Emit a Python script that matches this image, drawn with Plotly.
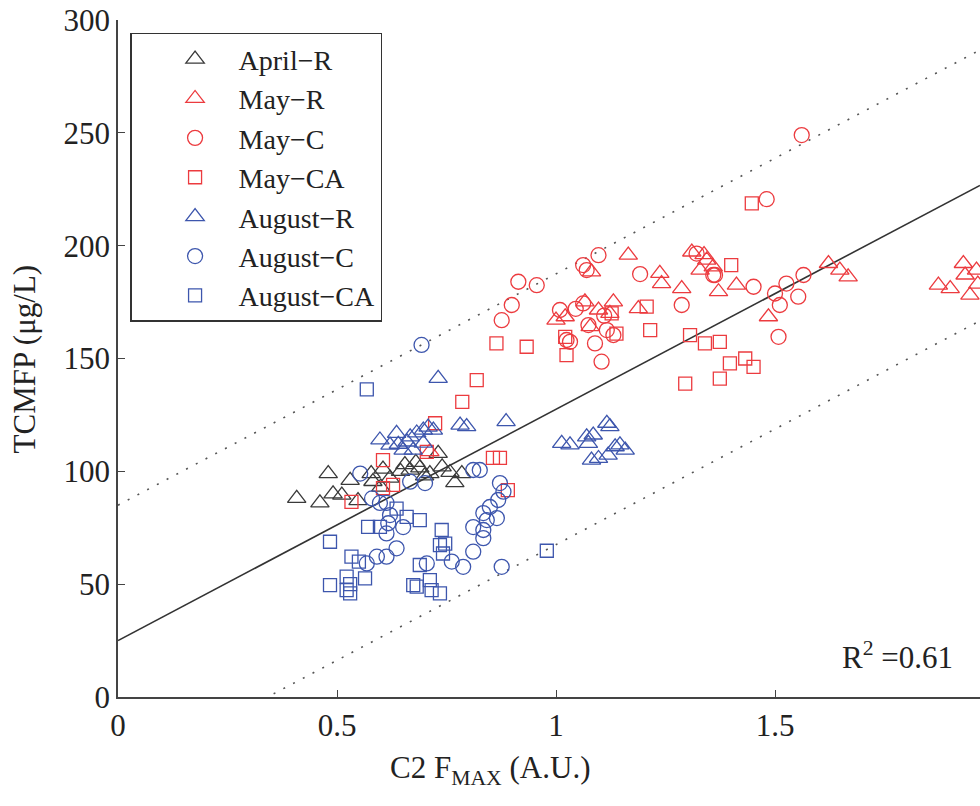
import plotly.graph_objects as go

# ---------------- data ----------------
april_r_x = [0.408, 0.461, 0.48, 0.491, 0.511, 0.53, 0.548, 0.582, 0.605, 0.621, 0.645, 0.667,
             0.689, 0.712, 0.731, 0.758, 0.769, 0.785, 0.578, 0.655, 0.70, 0.74, 0.60, 0.68]
april_r_y = [88, 86, 99, 90, 89.5, 96, 87, 95.5, 101, 97, 100, 100.5,
             101.5, 99, 108, 99.5, 95, 99, 99, 103, 98, 102, 93, 104]

may_r_x = [1.165, 1.081, 1.237, 1.241, 1.287, 1.371, 1.0, 1.021, 1.066, 1.097, 1.131, 1.123,
           1.188, 1.078, 1.31, 1.329, 1.344, 1.359, 1.412, 1.485, 1.622, 1.648, 1.667, 1.873,
           1.9, 1.93, 1.934, 1.945, 1.96, 1.963, 0.712, 1.338]
may_r_y = [195.8, 188.4, 187.7, 183.2, 181, 179.6, 167, 168.5, 175.1, 171.5, 175.1, 170,
           172.1, 164.1, 197.2, 189.2, 193.6, 190.6, 182.5, 168.5, 192.1, 189.2, 186.2, 182.5,
           181, 192.1, 187, 178.1, 189.2, 183, 108.7, 196]

may_c_x = [1.097, 1.062, 1.07, 0.914, 0.956, 1.192, 0.899, 0.876, 1.009, 1.062, 1.287, 1.024,
           1.032, 1.074, 1.116, 1.131, 1.089, 1.104, 1.321, 1.359, 1.561, 1.481, 1.363, 1.451,
           1.5, 1.526, 1.565, 1.511, 1.553, 1.508, 1.045, 1.11]
may_c_y = [195.8, 191.4, 189.2, 184, 182.5, 187.4, 173.7, 167, 171.5, 174.4, 173.7, 158.2,
           157.4, 164.8, 162.6, 160.4, 156.7, 148.6, 196.5, 187, 249, 220.6, 187, 181.8,
           178.8, 183.2, 187, 173.7, 177.4, 159.6, 172, 169]

may_ca_x = [0.864, 0.933, 1.024, 1.021, 1.138, 1.127, 1.207, 1.215, 1.306, 1.34, 1.374, 0.819,
            1.295, 1.374, 1.400, 1.397, 1.432, 1.451, 1.447, 0.786, 0.724, 0.605, 0.705, 0.605,
            0.628, 0.533, 0.856, 0.872, 0.890]
may_ca_y = [156.7, 155.2, 151.5, 159.6, 161, 170, 173, 162.6, 160.4, 156.7, 157.4, 140.4,
            138.9, 141.1, 191.4, 147.8, 150, 146.3, 218.7, 130.8, 121.3, 105, 108.6, 92.6,
            94, 86.5, 106, 106, 91.7]

aug_r_x = [0.731, 0.781, 0.796, 0.886, 0.598, 0.636, 0.621, 0.651, 0.667, 0.674, 0.682, 0.697,
           0.697, 0.708, 0.72, 1.013, 1.032, 1.07, 1.085, 1.116, 1.123, 1.081, 1.097, 1.119,
           1.135, 1.146, 1.158, 1.074, 0.64, 0.66]
aug_r_y = [141.2, 120.5, 119.8, 122, 113.9, 116.8, 111.6, 109.4, 115.3, 109.4, 117, 118.3,
           112.5, 119.6, 118.3, 112.4, 111.7, 115.3, 116.1, 121.3, 119.8, 105, 105.7, 107.2,
           110.9, 111.7, 109.4, 112.4, 112, 113]

aug_c_x = [0.693, 0.553, 0.667, 0.701, 0.811, 0.826, 0.872, 0.868, 0.849, 0.834, 0.842, 0.811,
           0.834, 0.865, 0.834, 0.811, 0.788, 0.876, 0.636, 0.613, 0.591, 0.568, 0.613, 0.617,
           0.651, 0.621, 0.598, 0.705, 0.762, 0.613, 0.88, 0.58]
aug_c_y = [156, 99, 95.4, 94.8, 100.6, 100.6, 94.8, 87.3, 84.2, 81.5, 78.4, 75.3,
           74, 79.3, 70.4, 64.4, 57.7, 57.7, 65.9, 62.2, 62.2, 59.2, 72.5, 77,
           75.3, 80.6, 86, 59.2, 60, 86, 91, 88]

aug_ca_x = [0.484, 0.484, 0.522, 0.522, 0.530, 0.533, 0.564, 0.571, 0.598, 0.636, 0.659, 0.689,
            0.674, 0.712, 0.716, 0.735, 0.739, 0.735, 0.747, 0.742, 0.689, 0.682, 0.568, 0.979,
            0.53, 0.55]
aug_ca_y = [68.8, 49.6, 53.3, 47.4, 45.9, 62.2, 52.6, 75.4, 75.4, 83.5, 79.8, 78.4,
            49.6, 51.8, 47.4, 45.9, 74, 67.3, 68, 63.6, 58.5, 48.9, 136.3, 64.8,
            50, 60]

fit_slope = 102.5
fit_intercept = 25.0
band = 60.0
x_range = [0, 1.968]
y_ticks = [0, 50, 100, 150, 200, 250, 300]
x_ticks = [0, 0.5, 1, 1.5]
x_tick_labels = ["0", "0.5", "1", "1.5"]

BLACK = "#3a3a3a"
RED = "#ec3b3f"
BLUE = "#3d56ad"
FONT = "Liberation Serif"
FS = 31

series = [
    ("April−R", april_r_x, april_r_y, "triangle-up-open", BLACK, 16),
    ("May−R", may_r_x, may_r_y, "triangle-up-open", RED, 16),
    ("May−C", may_c_x, may_c_y, "circle-open", RED, 15),
    ("May−CA", may_ca_x, may_ca_y, "square-open", RED, 13),
    ("August−R", aug_r_x, aug_r_y, "triangle-up-open", BLUE, 16),
    ("August−C", aug_c_x, aug_c_y, "circle-open", BLUE, 15),
    ("August−CA", aug_ca_x, aug_ca_y, "square-open", BLUE, 13),
]

fig = go.Figure()

# regression and prediction band lines
lx = x_range
fig.add_trace(go.Scatter(x=lx, y=[fit_intercept + fit_slope * v for v in lx], mode="lines",
                         line=dict(color="#333333", width=1.6), showlegend=False, hoverinfo="skip"))
for off in (band, -band):
    fig.add_trace(go.Scatter(x=lx, y=[fit_intercept + off + fit_slope * v for v in lx], mode="lines",
                             line=dict(color="#555555", width=1.6, dash="2px,9px"),
                             showlegend=False, hoverinfo="skip"))

for i, (name, xs, ys, sym, col, sz) in enumerate(series):
    fig.add_trace(go.Scatter(
        x=xs, y=ys, mode="markers", name=name, legendgroup=f"g{i}",
        marker=dict(symbol=sym, size=sz, color=col, line=dict(width=1.3, color=col)),
    ))

fig.update_layout(
    width=980, height=806,
    margin=dict(l=118, r=0, t=20, b=109),
    plot_bgcolor="white", paper_bgcolor="white",
    font=dict(family=FONT, size=FS, color="#222222"),
    showlegend=True,
    legend=dict(
        x=0.014, y=0.981, xanchor="left", yanchor="top",
        bordercolor="#333333", borderwidth=1.5, bgcolor="white",
        font=dict(family=FONT, size=28, color="#222222"),
        traceorder="grouped", tracegroupgap=0,
        itemwidth=77, indentation=20,
    ),
    xaxis=dict(
        range=x_range, tickmode="array", tickvals=x_ticks, ticktext=x_tick_labels,
        ticks="inside", ticklen=7, tickwidth=1.3, tickcolor="#444444",
        showline=True, linecolor="#444444", linewidth=1.6,
        showgrid=False, zeroline=False,
        tickfont=dict(family=FONT, size=FS, color="#222222"),
    ),
    yaxis=dict(
        range=[0, 300], tickmode="array", tickvals=y_ticks,
        ticks="inside", ticklen=7, tickwidth=1.3, tickcolor="#444444",
        showline=True, linecolor="#444444", linewidth=1.6,
        showgrid=False, zeroline=False,
        tickfont=dict(family=FONT, size=FS, color="#222222"),
    ),
    annotations=[
        dict(text="TCMFP (μg/L)", xref="paper", yref="paper", x=-0.108, y=0.5,
             textangle=-90, showarrow=False, xanchor="center", yanchor="middle",
             font=dict(family=FONT, size=FS, color="#222222")),
        dict(text="C2 F<sub>MAX</sub> (A.U.)", xref="paper", yref="paper", x=0.432, y=-0.108,
             showarrow=False, xanchor="center", yanchor="middle",
             font=dict(family=FONT, size=FS, color="#222222")),
        dict(text="R<sup>2</sup> =0.61", xref="paper", yref="paper",
             x=(955 - 118) / 862, y=(697 - 655) / 677,
             showarrow=False, xanchor="right", yanchor="middle",
             font=dict(family=FONT, size=FS, color="#222222")),
    ],
)

fig.write_html("out.html")
